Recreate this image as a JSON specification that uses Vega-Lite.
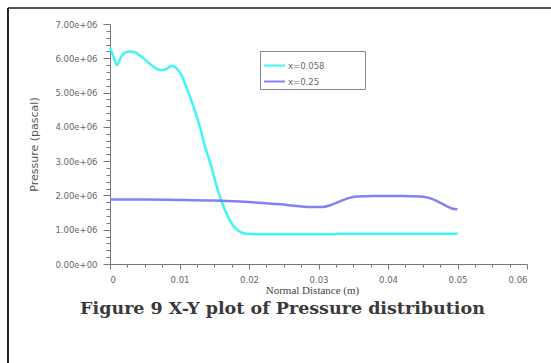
{
  "$schema": "https://vega.github.io/schema/vega-lite/v6.json",
  "width": 417,
  "height": 240,
  "autosize": {"type": "none"},
  "padding": {"left": 110, "top": 24, "right": 24, "bottom": 99},
  "background": "white",
  "config": {
    "view": {"stroke": null},
    "axis": {"grid": false, "domainColor": "#777", "tickColor": "#777", "labelColor": "#666", "labelFont": "DejaVu Sans", "labelFontSize": 8.5, "titleFontWeight": "normal"}
  },
  "title": {
    "text": "Figure 9 X-Y plot of Pressure distribution",
    "orient": "bottom",
    "anchor": "middle",
    "font": "DejaVu Serif",
    "fontSize": 17.5,
    "fontWeight": "bold",
    "color": "#3a3a3a",
    "dx": -36,
    "offset": -64
  },
  "datasets": {
    "curves": [
      {"x": 0, "p": 6320000, "series": "x=0.058"},
      {"x": 0.0005, "p": 6050000, "series": "x=0.058"},
      {"x": 0.001, "p": 5800000, "series": "x=0.058"},
      {"x": 0.0016, "p": 6050000, "series": "x=0.058"},
      {"x": 0.0022, "p": 6170000, "series": "x=0.058"},
      {"x": 0.003, "p": 6200000, "series": "x=0.058"},
      {"x": 0.0036, "p": 6180000, "series": "x=0.058"},
      {"x": 0.0045, "p": 6050000, "series": "x=0.058"},
      {"x": 0.0055, "p": 5880000, "series": "x=0.058"},
      {"x": 0.0065, "p": 5720000, "series": "x=0.058"},
      {"x": 0.0073, "p": 5650000, "series": "x=0.058"},
      {"x": 0.008, "p": 5680000, "series": "x=0.058"},
      {"x": 0.0089, "p": 5780000, "series": "x=0.058"},
      {"x": 0.0095, "p": 5720000, "series": "x=0.058"},
      {"x": 0.0103, "p": 5500000, "series": "x=0.058"},
      {"x": 0.011, "p": 5150000, "series": "x=0.058"},
      {"x": 0.012, "p": 4600000, "series": "x=0.058"},
      {"x": 0.013, "p": 3950000, "series": "x=0.058"},
      {"x": 0.0137, "p": 3400000, "series": "x=0.058"},
      {"x": 0.0145, "p": 2900000, "series": "x=0.058"},
      {"x": 0.0151, "p": 2450000, "series": "x=0.058"},
      {"x": 0.0156, "p": 2100000, "series": "x=0.058"},
      {"x": 0.0161, "p": 1800000, "series": "x=0.058"},
      {"x": 0.0167, "p": 1500000, "series": "x=0.058"},
      {"x": 0.0173, "p": 1250000, "series": "x=0.058"},
      {"x": 0.018, "p": 1050000, "series": "x=0.058"},
      {"x": 0.0188, "p": 930000, "series": "x=0.058"},
      {"x": 0.0197, "p": 880000, "series": "x=0.058"},
      {"x": 0.021, "p": 870000, "series": "x=0.058"},
      {"x": 0.025, "p": 870000, "series": "x=0.058"},
      {"x": 0.03, "p": 870000, "series": "x=0.058"},
      {"x": 0.0324, "p": 870000, "series": "x=0.058"},
      {"x": 0.0326, "p": 885000, "series": "x=0.058"},
      {"x": 0.04, "p": 885000, "series": "x=0.058"},
      {"x": 0.045, "p": 885000, "series": "x=0.058"},
      {"x": 0.05, "p": 885000, "series": "x=0.058"},
      {"x": 0, "p": 1880000, "series": "x=0.25"},
      {"x": 0.005, "p": 1880000, "series": "x=0.25"},
      {"x": 0.01, "p": 1870000, "series": "x=0.25"},
      {"x": 0.015, "p": 1850000, "series": "x=0.25"},
      {"x": 0.0187, "p": 1820000, "series": "x=0.25"},
      {"x": 0.022, "p": 1780000, "series": "x=0.25"},
      {"x": 0.0245, "p": 1740000, "series": "x=0.25"},
      {"x": 0.027, "p": 1690000, "series": "x=0.25"},
      {"x": 0.029, "p": 1660000, "series": "x=0.25"},
      {"x": 0.0305, "p": 1660000, "series": "x=0.25"},
      {"x": 0.0318, "p": 1720000, "series": "x=0.25"},
      {"x": 0.033, "p": 1820000, "series": "x=0.25"},
      {"x": 0.0343, "p": 1920000, "series": "x=0.25"},
      {"x": 0.0355, "p": 1970000, "series": "x=0.25"},
      {"x": 0.038, "p": 1980000, "series": "x=0.25"},
      {"x": 0.042, "p": 1980000, "series": "x=0.25"},
      {"x": 0.0446, "p": 1970000, "series": "x=0.25"},
      {"x": 0.046, "p": 1920000, "series": "x=0.25"},
      {"x": 0.0472, "p": 1820000, "series": "x=0.25"},
      {"x": 0.0485, "p": 1680000, "series": "x=0.25"},
      {"x": 0.0492, "p": 1620000, "series": "x=0.25"},
      {"x": 0.05, "p": 1600000, "series": "x=0.25"}
    ]
  },
  "layer": [
    {
      "data": {"name": "curves"},
      "mark": {"type": "line", "strokeWidth": 2.5, "interpolate": "monotone"},
      "encoding": {
        "x": {
          "field": "x", "type": "quantitative",
          "scale": {"domain": [0, 0.06], "nice": false, "zero": false},
          "axis": {
            "values": [0, 0.01, 0.02, 0.03, 0.04, 0.05, 0.06],
            "labelExpr": "datum.value == 0 ? '0' : format(datum.value, '.2f')",
            "tickSize": 5, "labelPadding": 6,
            "title": "Normal Distance (m)",
            "titleFont": "Liberation Serif", "titleFontSize": 11, "titleColor": "#444", "titlePadding": 1, "titleX": 202
          }
        },
        "y": {
          "field": "p", "type": "quantitative",
          "scale": {"domain": [0, 7000000], "nice": false, "zero": false},
          "axis": {
            "values": [0, 1000000, 2000000, 3000000, 4000000, 5000000, 6000000, 7000000],
            "labelExpr": "replace(format(datum.value, '.2e'), 'e+', 'e+0')",
            "tickSize": 7, "labelPadding": 6,
            "title": "Pressure (pascal)",
            "titleFont": "DejaVu Sans", "titleFontSize": 11, "titleColor": "#555", "titlePadding": 15
          }
        },
        "color": {
          "field": "series", "type": "nominal",
          "scale": {"domain": ["x=0.058", "x=0.25"], "range": ["#3ff5f5", "#8282f5"]},
          "legend": {
            "title": " ", "titleOrient": "right", "titlePadding": 38,
            "orient": "none", "legendX": 150, "legendY": 27,
            "symbolType": "stroke", "symbolSize": 441, "symbolStrokeWidth": 2,
            "labelFont": "DejaVu Sans", "labelFontSize": 8.5, "labelColor": "#666", "labelOffset": 2,
            "rowPadding": 0, "padding": 3, "strokeColor": "#888"
          }
        }
      }
    },
    {
      "data": {"name": "curves"},
      "mark": {"type": "tick", "opacity": 0},
      "encoding": {
        "y": {
          "field": "p", "type": "quantitative",
          "axis": {
            "values": [200000, 400000, 600000, 800000, 1200000, 1400000, 1600000, 1800000, 2200000, 2400000, 2600000, 2800000, 3200000, 3400000, 3600000, 3800000, 4200000, 4400000, 4600000, 4800000, 5200000, 5400000, 5600000, 5800000, 6200000, 6400000, 6600000, 6800000],
            "orient": "left", "labels": false, "domain": false, "tickSize": 4, "title": null
          }
        },
        "x": {
          "field": "x", "type": "quantitative",
          "axis": {
            "values": [0.0025, 0.005, 0.0075, 0.0125, 0.015, 0.0175, 0.0225, 0.025, 0.0275, 0.0325, 0.035, 0.0375, 0.0425, 0.045, 0.0475, 0.0525, 0.055, 0.0575],
            "orient": "bottom", "labels": false, "domain": false, "tickSize": 3, "title": null
          }
        }
      }
    },
    {
      "data": {"values": [{"edge": "top"}]},
      "mark": {"type": "rule", "color": "#555", "strokeWidth": 2, "clip": false},
      "encoding": {
        "x": {"datum": -0.01468, "type": "quantitative", "axis": null},
        "x2": {"datum": 0.06345},
        "y": {"datum": 7466700, "type": "quantitative", "axis": null}
      }
    },
    {
      "data": {"values": [{"edge": "left"}]},
      "mark": {"type": "rule", "color": "#222", "strokeWidth": 2, "clip": false},
      "encoding": {
        "x": {"datum": -0.01468, "type": "quantitative", "axis": null},
        "y": {"datum": 7466700, "type": "quantitative", "axis": null},
        "y2": {"datum": -2887500}
      }
    }
  ],
  "resolve": {"axis": {"x": "independent", "y": "independent"}}
}
